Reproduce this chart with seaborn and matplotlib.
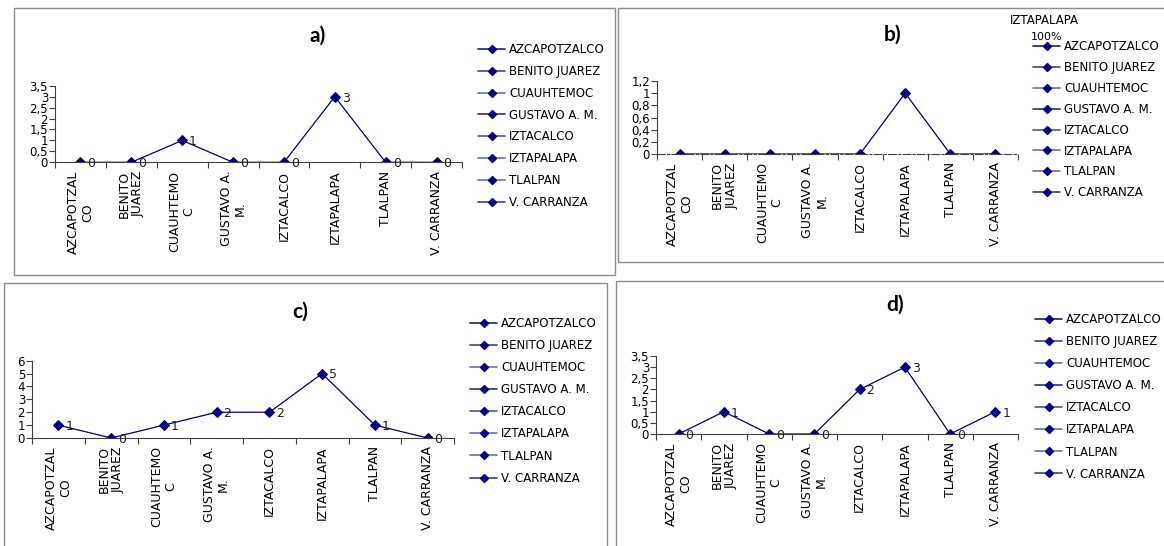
import numpy as np
import pandas as pd
import matplotlib
matplotlib.use("Agg")
import matplotlib.pyplot as plt
import seaborn as sns
from matplotlib.lines import Line2D
from matplotlib.patches import Rectangle

# Data
categories = ["AZCAPOTZALCO", "BENITO JUAREZ", "CUAUHTEMOC", "GUSTAVO A. M.",
              "IZTACALCO", "IZTAPALAPA", "TLALPAN", "V. CARRANZA"]
tick_labels = ["AZCAPOTZAL\nCO", "BENITO\nJUAREZ", "CUAUHTEMO\nC", "GUSTAVO A.\nM.",
               "IZTACALCO", "IZTAPALAPA", "TLALPAN", "V. CARRANZA"]
values_a = [0, 0, 1, 0, 0, 3, 0, 0]
values_b = [0, 0, 0, 0, 0, 1, 0, 0]
values_c = [1, 0, 1, 2, 2, 5, 1, 0]
values_d = [0, 1, 0, 0, 2, 3, 0, 1]
yticks_a = [0, 0.5, 1, 1.5, 2, 2.5, 3, 3.5]
yticks_b = [0, 0.2, 0.4, 0.6, 0.8, 1, 1.2]
yticks_c = [0, 1, 2, 3, 4, 5, 6]

sns.set_theme(style="white")
plt.rcParams['font.family'] = ['DejaVu Sans']
plt.rcParams['text.color'] = 'black'
plt.rcParams['xtick.labelcolor'] = 'black'
plt.rcParams['ytick.labelcolor'] = 'black'

W, H = 1164, 546
NAVY = "#000080"
fig = plt.figure(figsize=(W / 100, H / 100), dpi=100)
fig.patch.set_facecolor("white")


def px_axes(l, r, top, bottom):
    return fig.add_axes([l / W, 1 - bottom / H, (r - l) / W, (bottom - top) / H])


def frame(l, t, r, b):
    fig.patches.append(Rectangle((l / W, 1 - b / H), (r - l) / W, (b - t) / H,
                                 transform=fig.transFigure, fill=False,
                                 edgecolor="#8c8c8c", linewidth=1.0))


def fmt(v):
    return f"{v:g}".replace(".", ",")


def panel(box, values, yticks, title, title_xy, legend_xy, spacing, labels=True, dashed=False):
    ax = px_axes(*box)
    df = pd.DataFrame({"x": np.arange(len(values)), "y": values})
    sns.lineplot(data=df, x="x", y="y", ax=ax, color=NAVY, linewidth=0.9, marker="D",
                 markersize=4.8, markeredgecolor=NAVY, sort=False)
    ax.set_xlim(-0.5, len(values) - 0.5)
    ax.set_ylim(0, yticks[-1])
    ax.set_yticks(yticks)
    ax.set_yticklabels([fmt(v) for v in yticks], fontsize=8.5)
    ax.set_xticks(np.arange(len(values)))
    ax.set_xticklabels(tick_labels, rotation=90, fontsize=9, linespacing=1.1)
    ax.set_xticks(np.arange(-0.5, len(values)), minor=True)
    ax.tick_params(axis="x", which="major", length=0, pad=6)
    ax.tick_params(axis="x", which="minor", length=4, direction="out", color="#404040", width=0.8)
    ax.tick_params(axis="y", length=4, direction="out", color="#404040", width=0.8, pad=1)
    ax.xaxis.set_ticks_position("bottom")
    ax.yaxis.set_ticks_position("left")
    for s in ["top", "right"]:
        ax.spines[s].set_visible(False)
    for s in ["left", "bottom"]:
        ax.spines[s].set_color("#404040")
        ax.spines[s].set_linewidth(0.8)
    if dashed:
        ax.spines["bottom"].set_linestyle((0, (7, 2, 2, 2)))
    ax.set_xlabel("")
    ax.set_ylabel("")
    ax.set_facecolor("none")
    if labels:
        for i, v in enumerate(values):
            ax.annotate(str(v), (i, v), xytext=(5, -1), textcoords="offset points",
                        ha="left", va="center", fontsize=9, color="#202020")
    fig.text(title_xy[0] / W, 1 - title_xy[1] / H, title, fontsize=15, fontweight="bold",
             family="Lato", ha="center", va="center")
    handles = [Line2D([], [], color=c, marker="D", markersize=4, markerfacecolor=NAVY,
                      markeredgecolor=NAVY, linewidth=1.2)
               for c in ["#1a1a8c", "#4040a8", "#6a6ac4", "#2a2a96", "#5050b4",
                         "#6a6ac4", "#6a6ac4", "#3a3aa0"]]
    ax.legend(handles, categories, loc="upper left", frameon=False, fontsize=8.5,
              bbox_to_anchor=(legend_xy[0] / W, 1 - legend_xy[1] / H),
              bbox_transform=fig.transFigure, borderpad=0, borderaxespad=0,
              handlelength=2.3, handletextpad=0.35, labelspacing=spacing)
    return ax


# frames
frame(14, 8, 615, 275)
frame(618, 8, 1170, 262)
frame(4, 283, 607, 560)
frame(616, 281, 1170, 560)

panel((55, 462, 85.7, 162.3), values_a, yticks_a, "a)", (318, 36), (478, 43), 0.75)
panel((657, 1018, 81, 154), values_b, yticks_b, "b)", (893, 35), (1033, 40), 0.67,
      labels=False, dashed=True)
panel((32, 454, 360.7, 438), values_c, yticks_c, "c)", (300, 312), (470, 317), 0.77)
panel((656, 1018, 356, 434), values_d, yticks_a, "d)", (895, 305), (1035, 313), 0.77)

fig.text(1010 / W, 1 - 20 / H, "IZTAPALAPA", fontsize=8.5, ha="left", va="center")
fig.text(1031 / W, 1 - 37 / H, "100%", fontsize=8, ha="left", va="center")

fig.savefig("out.png", dpi=100, facecolor="white")
